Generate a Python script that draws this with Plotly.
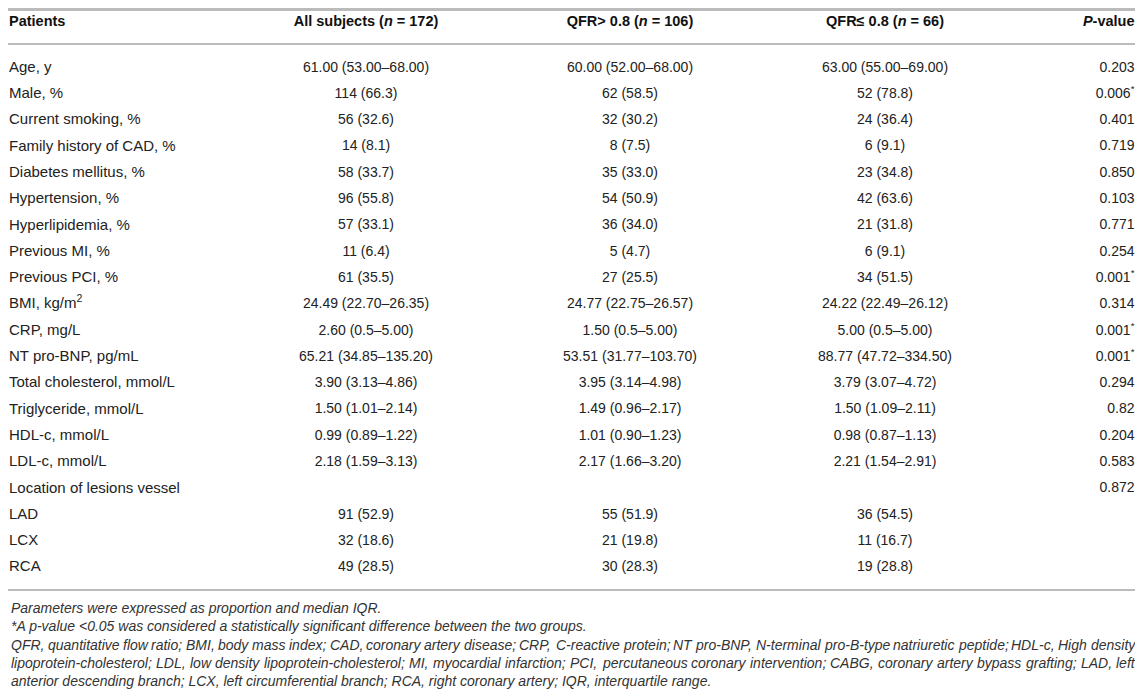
import plotly.graph_objects as go

# ---- data ----
headers = ["<b>Patients</b>", "<b>All subjects (<i>n</i> = 172)</b>",
           "<b>QFR&gt; 0.8 (<i>n</i> = 106)</b>", "<b>QFR≤ 0.8 (<i>n</i> = 66)</b>",
           "<b><i>P</i>-value</b>"]

patients = ["Age, y", "Male, %", "Current smoking, %", "Family history of CAD, %",
            "Diabetes mellitus, %", "Hypertension, %", "Hyperlipidemia, %",
            "Previous MI, %", "Previous PCI, %", "BMI, kg/m<sup>2</sup>", "CRP, mg/L",
            "NT pro-BNP, pg/mL", "Total cholesterol, mmol/L", "Triglyceride, mmol/L",
            "HDL-c, mmol/L", "LDL-c, mmol/L", "Location of lesions vessel",
            "LAD", "LCX", "RCA"]

all_subjects = ["61.00 (53.00–68.00)", "114 (66.3)", "56 (32.6)", "14 (8.1)", "58 (33.7)",
                "96 (55.8)", "57 (33.1)", "11 (6.4)", "61 (35.5)", "24.49 (22.70–26.35)",
                "2.60 (0.5–5.00)", "65.21 (34.85–135.20)", "3.90 (3.13–4.86)",
                "1.50 (1.01–2.14)", "0.99 (0.89–1.22)", "2.18 (1.59–3.13)", "",
                "91 (52.9)", "32 (18.6)", "49 (28.5)"]

qfr_gt = ["60.00 (52.00–68.00)", "62 (58.5)", "32 (30.2)", "8 (7.5)", "35 (33.0)",
          "54 (50.9)", "36 (34.0)", "5 (4.7)", "27 (25.5)", "24.77 (22.75–26.57)",
          "1.50 (0.5–5.00)", "53.51 (31.77–103.70)", "3.95 (3.14–4.98)",
          "1.49 (0.96–2.17)", "1.01 (0.90–1.23)", "2.17 (1.66–3.20)", "",
          "55 (51.9)", "21 (19.8)", "30 (28.3)"]

qfr_le = ["63.00 (55.00–69.00)", "52 (78.8)", "24 (36.4)", "6 (9.1)", "23 (34.8)",
          "42 (63.6)", "21 (31.8)", "6 (9.1)", "34 (51.5)", "24.22 (22.49–26.12)",
          "5.00 (0.5–5.00)", "88.77 (47.72–334.50)", "3.79 (3.07–4.72)",
          "1.50 (1.09–2.11)", "0.98 (0.87–1.13)", "2.21 (1.54–2.91)", "",
          "36 (54.5)", "11 (16.7)", "19 (28.8)"]

p_values = ["0.203", "0.006*", "0.401", "0.719", "0.850", "0.103", "0.771", "0.254",
            "0.001*", "0.314", "0.001*", "0.001*", "0.294", "0.82", "0.204", "0.583",
            "0.872", "", "", ""]

footnotes = [
    "Parameters were expressed as proportion and median IQR.",
    "*A p-value <0.05 was considered a statistically significant difference between the two groups.",
    "QFR, quantitative flow ratio; BMI, body mass index; CAD, coronary artery disease; CRP, C-reactive protein; NT pro-BNP, N-terminal pro-B-type natriuretic peptide; HDL-c, High density",
    "lipoprotein-cholesterol; LDL, low density lipoprotein-cholesterol; MI, myocardial infarction; PCI, percutaneous coronary intervention; CABG, coronary artery bypass grafting; LAD, left",
    "anterior descending branch; LCX, left circumferential branch; RCA, right coronary artery; IQR, interquartile range.",
]
justified = [False, False, True, True, False]

# ---- layout constants (page pixel coordinates; page body has 8px margin) ----
W, H = 1143, 698
M = 8
FONT = "Liberation Sans, Arial, Helvetica, sans-serif"
TXT = "#222222"
LINE = "#bbbbbb"
FS_LABEL = 15
FS_NUM = 14
FS_HEAD = 14.5
FFS = 14
header_y = 22
row0_y = 68
row_step = 26.3
foot0_y = 608
foot_step = 18.3
col_x = [9, 366, 630, 885, 1134.5]
col_fs = [FS_LABEL, FS_NUM, FS_NUM, FS_NUM, FS_NUM]
col_pos = ["middle right", "middle center", "middle center", "middle center", "middle left"]
foot_x0, foot_x1 = 9, 1133

# Arial / Liberation Sans advance widths (per 1000 em)
AW = {" ": 278, "!": 278, "(": 333, ")": 333, "*": 389, ",": 278, "-": 333, ".": 278,
      "/": 278, ":": 278, ";": 278, "<": 584, "=": 584, ">": 584}
AW.update({d: 556 for d in "0123456789"})
AW.update(dict(zip("ABCDEFGHIJKLMNOPQRSTUVWXYZ",
                   [667, 667, 722, 722, 667, 611, 778, 722, 278, 500, 667, 556, 833,
                    722, 778, 667, 778, 722, 667, 611, 722, 667, 944, 667, 667, 611])))
AW.update(dict(zip("abcdefghijklmnopqrstuvwxyz",
                   [556, 556, 500, 556, 556, 278, 556, 556, 222, 222, 500, 222, 833,
                    556, 556, 556, 556, 333, 500, 278, 556, 500, 722, 500, 500, 500])))


def text_w(s, size):
    return sum(AW.get(c, 556) for c in s) * size / 1000.0


def esc(s):
    return s.replace("<", "&lt;").replace(">", "&gt;")


p_disp = [p.replace("*", "<sup>*</sup>") for p in p_values]
row_y = [row0_y + i * row_step for i in range(len(patients))]
columns = [patients, all_subjects, qfr_gt, qfr_le, p_disp]

fig = go.Figure()
for cx, pos, fs, vals in zip(col_x, col_pos, col_fs, columns):
    ys = [y for y, v in zip(row_y, vals) if v]
    ts = [v for v in vals if v]
    fig.add_trace(go.Scatter(
        x=[cx] * len(ts), y=ys, mode="text", text=ts, textposition=pos, cliponaxis=False,
        textfont=dict(family=FONT, size=fs, color=TXT), hoverinfo="skip", showlegend=False))

fig.add_trace(go.Scatter(
    x=col_x, y=[header_y] * len(headers), mode="text", text=headers, textposition=col_pos,
    cliponaxis=False, textfont=dict(family=FONT, size=FS_HEAD, color="#111111"),
    hoverinfo="skip", showlegend=False))

for i, (f, just) in enumerate(zip(footnotes, justified)):
    fy = foot0_y + i * foot_step
    if not just:
        fig.add_annotation(x=foot_x0, y=fy, xref="x", yref="y", text="<i>" + esc(f) + "</i>",
                           showarrow=False, xanchor="left", yanchor="middle",
                           font=dict(family=FONT, size=FFS, color="#333333"))
    else:
        words = f.split(" ")
        ww = [text_w(w, FFS) for w in words]
        gap = (foot_x1 - foot_x0 - sum(ww)) / (len(words) - 1)
        xc = foot_x0
        for w, wl in zip(words, ww):
            fig.add_annotation(x=xc, y=fy, xref="x", yref="y", text="<i>" + esc(w) + "</i>",
                               showarrow=False, xanchor="left", yanchor="middle",
                               font=dict(family=FONT, size=FFS, color="#333333"))
            xc += wl + gap

for ly, lw in [(9.5, 3), (44, 2), (590, 2)]:
    fig.add_shape(type="line", x0=M, x1=1140, y0=ly, y1=ly, xref="x", yref="y",
                  line=dict(color=LINE, width=lw))

fig.update_layout(
    width=W - 2 * M, height=H - 2 * M, margin=dict(l=0, r=0, t=0, b=0, pad=0),
    paper_bgcolor="white", plot_bgcolor="white",
    xaxis=dict(range=[M, W - M], visible=False, fixedrange=True),
    yaxis=dict(range=[H - M, M], visible=False, fixedrange=True),
)

fig.write_html("out.html")
